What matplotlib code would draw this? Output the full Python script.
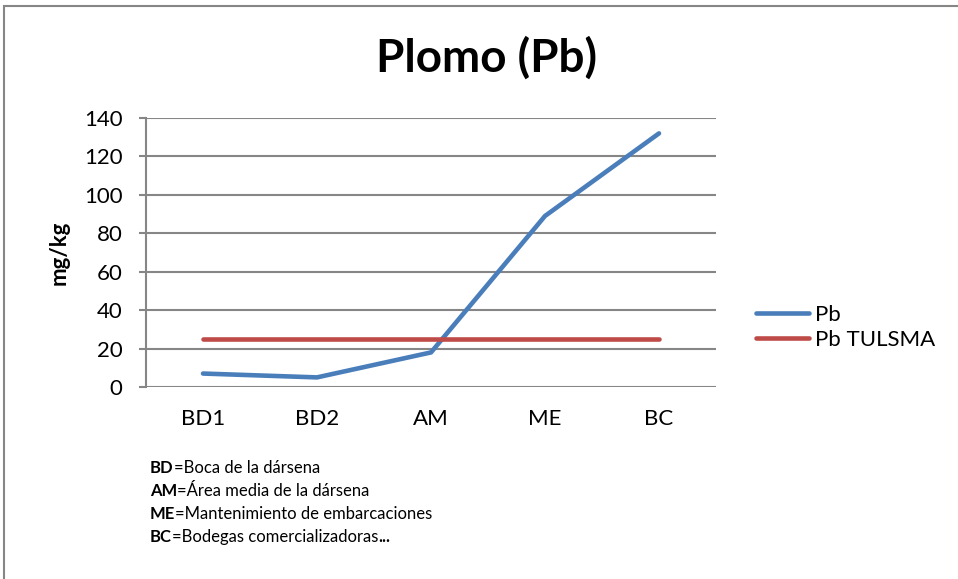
import matplotlib.pyplot as plt
from matplotlib.patches import Rectangle

plt.rcParams['font.family'] = ['Lato', 'DejaVu Sans']

categories = ["BD1", "BD2", "AM", "ME", "BC"]
pb = [7, 5, 18, 89, 132]
pb_tulsma = [25, 25, 25, 25, 25]
yticks = [0, 20, 40, 60, 80, 100, 120, 140]
notes = [("BD", "=Boca de la dársena"),
         ("AM", "=Área media de la dársena"),
         ("ME", "=Mantenimiento de embarcaciones"),
         ("BC", "=Bodegas comercializadoras")]

grid_col = '#868686'

fig = plt.figure(figsize=(9.58, 5.79), dpi=100)
ax = fig.add_axes([146/958, 1-387/579, (716-146)/958, (387-118)/579])

x = range(len(categories))
ax.plot(x, pb, color='#4a7ebb', lw=3.3, solid_capstyle='round', solid_joinstyle='round', label='Pb', zorder=3)
ax.plot(x, pb_tulsma, color='#be4b48', lw=3.3, solid_capstyle='round', label='Pb TULSMA', zorder=3)

ax.set_xlim(-0.5, len(categories) - 0.5)
ax.set_ylim(0, 140)
ax.set_yticks(yticks)
ax.set_xticks(list(x))
ax.set_xticklabels(categories)
ax.yaxis.grid(True, color=grid_col, lw=1.5)
ax.set_axisbelow(True)
for s in ['top', 'right', 'bottom']:
    ax.spines[s].set_visible(False)
ax.spines['left'].set_color(grid_col)
ax.spines['left'].set_linewidth(1.5)
ax.tick_params(axis='y', length=5, width=1.5, color=grid_col, pad=12, labelsize=16)
ax.tick_params(axis='x', length=0, pad=16, labelsize=16)
ax.set_ylabel('mg/kg', fontsize=16, fontweight='bold', labelpad=10)

fig.text(487/958, 1-58/579, 'Plomo (Pb)', ha='center', va='center', fontsize=33, fontweight='bold')

leg = ax.legend(loc='center left', bbox_to_anchor=(1.035, 0.222), frameon=False, fontsize=16,
                handlelength=2.4, labelspacing=0.22, handletextpad=0.25)

# footnote lines
y0 = 468
for i, (abbr, desc) in enumerate(notes):
    yy = 1 - (y0 + i*23)/579
    t = fig.text(150/958, yy, abbr, fontsize=12, fontweight='bold', va='center')
    fig.canvas.draw()
    bb = t.get_window_extent()
    t2 = fig.text(bb.x1/958, yy, desc, fontsize=12, va='center')
    if i == len(notes) - 1:
        fig.canvas.draw()
        bb2 = t2.get_window_extent()
        fig.text(bb2.x1/958, yy, '...', fontsize=12, fontweight='bold', va='center')

# chart frame
fig.patches.append(Rectangle((4/958, -0.5), 2, 1.5 - 6/579, transform=fig.transFigure,
                             fill=False, edgecolor=grid_col, lw=1.5))

fig.savefig('out.png', dpi=100)
